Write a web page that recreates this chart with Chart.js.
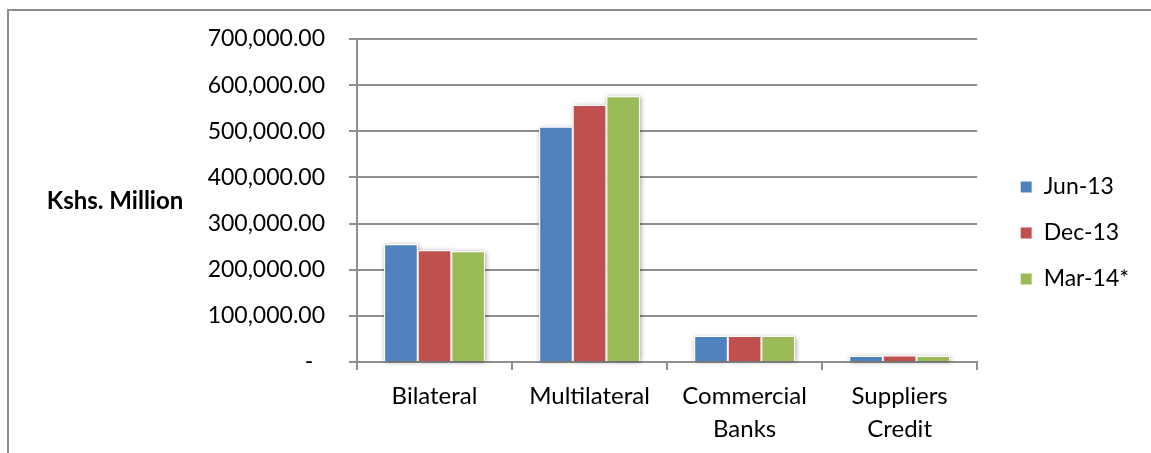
<!DOCTYPE html>
<html>
<head>
<meta charset="utf-8">
<script src="https://cdn.jsdelivr.net/npm/chart.js@4.4.1/dist/chart.umd.min.js"></script>
<style>
  html, body { margin: 0; padding: 0; background: #fff; overflow: hidden; }
  #wrap { position: relative; width: 1151px; height: 453px; }
  #frame {
    position: absolute; left: 7px; top: 9px; width: 1200px; height: 500px;
    border-top: 2px solid #8c8c8c; border-left: 2px solid #8c8c8c;
  }
  #debtChart { position: absolute; left: 0; top: 0; }
</style>
</head>
<body>
<div id="wrap">
  <div id="frame"></div>
  <canvas id="debtChart" width="1151" height="453"></canvas>
</div>
<script>
const creditors = ['Bilateral', 'Multilateral', ['Commercial', 'Banks'], ['Suppliers', 'Credit']];
const periods = ['Jun-13', 'Dec-13', 'Mar-14*'];
const jun13 = [255300, 509800, 56400, 13000];
const dec13 = [242300, 556800, 56400, 13900];
const mar14 = [240100, 575700, 56400, 13200];
const barColors = ['#4f81bd', '#c0504d', '#9bbb59'];

const FONT = 'Lato, "Open Sans", sans-serif';
const axisGray = '#8f8f8f';

// soft drop shadow behind each bar, drawn before the bars themselves
const barShadow = {
    id: 'barShadow',
    beforeDatasetsDraw(chart) {
        const ctx = chart.ctx;
        ctx.save();
        ctx.shadowColor = 'rgba(0,0,0,0.35)';
        ctx.shadowBlur = 5;
        ctx.shadowOffsetX = 1;
        ctx.shadowOffsetY = 1;
        ctx.fillStyle = '#fff';
        chart.data.datasets.forEach((ds, i) => {
            chart.getDatasetMeta(i).data.forEach(bar => {
                const p = bar.getProps(['x', 'y', 'base', 'width'], true);
                ctx.fillRect(p.x - p.width / 2, p.y, p.width, p.base - p.y);
            });
        });
        ctx.restore();
    }
};

// horizontal unit label to the left of the value axis
const unitLabel = {
    id: 'unitLabel',
    afterDraw(chart) {
        const ctx = chart.ctx;
        const area = chart.chartArea;
        ctx.save();
        ctx.font = 'bold 24px ' + FONT;
        ctx.fillStyle = '#000';
        ctx.textAlign = 'center';
        ctx.textBaseline = 'middle';
        ctx.fillText('Kshs. Million', 115, (area.top + area.bottom) / 2 + 1);
        ctx.restore();
    }
};

// keep the legend block a little above the vertical middle
const legendLift = {
    id: 'legendLift',
    afterLayout(chart) {
        chart.legend.bottom -= 26;
    }
};

const values = [jun13, dec13, mar14];

new Chart(document.getElementById('debtChart'), {
    type: 'bar',
    data: {
        labels: creditors,
        datasets: periods.map((p, i) => ({
            label: p,
            data: values[i],
            backgroundColor: barColors[i],
            borderColor: '#ffffff',
            borderWidth: 1,
            barPercentage: 1,
            categoryPercentage: 0.65
        }))
    },
    options: {
        responsive: false,
        animation: false,
        layout: { padding: { top: 39, right: 12, bottom: 0, left: 0 } },
        plugins: {
            tooltip: { enabled: false },
            legend: {
                position: 'right',
                labels: {
                    boxWidth: 12,
                    boxHeight: 12,
                    padding: 23,
                    color: '#000',
                    font: { family: FONT, size: 23 }
                }
            }
        },
        scales: {
            x: {
                grid: {
                    offset: true,
                    drawOnChartArea: false,
                    tickLength: 8,
                    color: axisGray,
                    lineWidth: 2
                },
                border: { color: axisGray, width: 2 },
                ticks: {
                    color: '#000',
                    padding: 10,
                    maxRotation: 0,
                    autoSkip: false,
                    font: { family: FONT, size: 24, lineHeight: 1.375 }
                },
                afterFit(scale) { scale.height = 91; }
            },
            y: {
                min: 0,
                max: 700000,
                grid: { color: axisGray, lineWidth: 2, tickLength: 8 },
                border: { color: axisGray, width: 2 },
                ticks: {
                    stepSize: 100000,
                    color: '#000',
                    padding: 24,
                    font: { family: FONT, size: 23 },
                    callback: v => v === 0 ? '-  ' :
                        v.toLocaleString('en-US', { minimumFractionDigits: 2, maximumFractionDigits: 2 })
                },
                afterFit(scale) { scale.width = 357; }
            },
            // empty spacer between plot and legend
            gap: {
                type: 'linear',
                position: 'right',
                display: true,
                grid: { display: false },
                border: { display: false },
                ticks: { display: false },
                afterFit(scale) { scale.width = 20; }
            }
        }
    },
    plugins: [barShadow, unitLabel, legendLift]
});
</script>
</body>
</html>
